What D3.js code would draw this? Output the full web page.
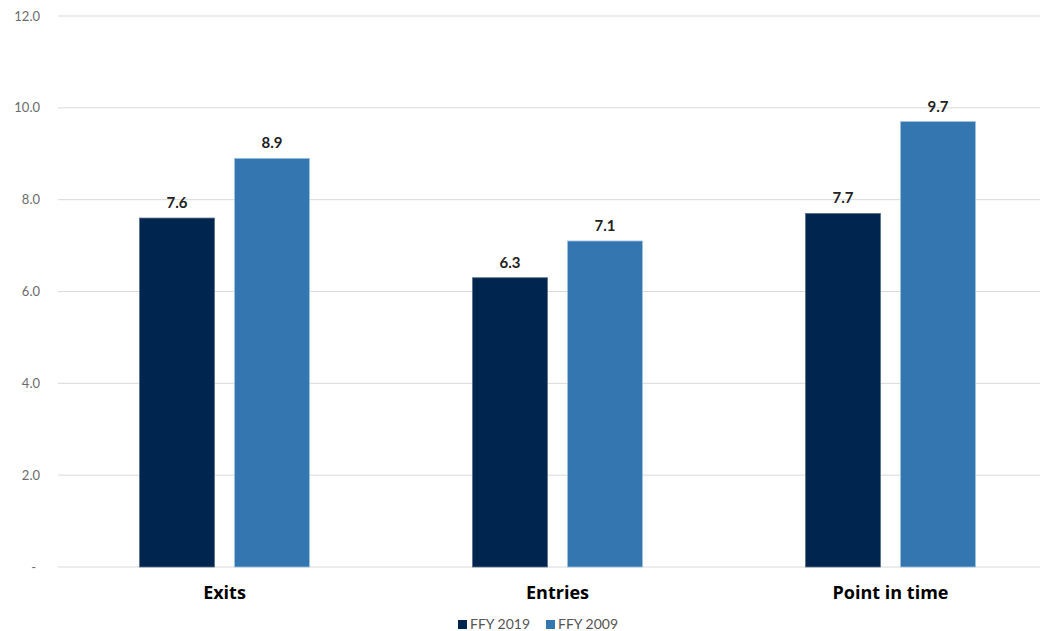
<!DOCTYPE html>
<html><head><meta charset="utf-8">
<script src="https://cdn.jsdelivr.net/npm/d3@7"></script>
<style>body{margin:0;background:#fff;} svg{display:block;font-family:Lato, "Open Sans", sans-serif;}</style>
</head><body>
<svg id="c" width="1044" height="631"></svg>
<script>
const categories = ["Exits", "Entries", "Point in time"];
const series = ["FFY 2019", "FFY 2009"];
const values2019 = [7.6, 6.3, 7.7];
const values2009 = [8.9, 7.1, 9.7];
const yTicks = [0, 2, 4, 6, 8, 10, 12];
const colors = ["#00254f", "#3476b0"];

const svg = d3.select("#c");
const y = d3.scaleLinear().domain([0, 12]).range([567, 16]);
const x0 = d3.scaleBand().domain(categories).range([58, 1057]).padding(0);
const bw = 75, gap = 20, step = bw + gap;
const po = (x0.bandwidth() - (2 * step - gap)) / (2 * step);
const x1 = d3.scaleBand().domain(series).range([0, x0.bandwidth()]).paddingInner(gap / step).paddingOuter(po);

// gridlines
svg.append("g").selectAll("line").data(yTicks).join("line")
  .attr("x1", 58).attr("x2", 1040)
  .attr("y1", d => y(d)).attr("y2", d => y(d))
  .attr("stroke", "#d9d9d9").attr("stroke-width", 1);

// y labels
svg.append("g").selectAll("text").data(yTicks).join("text")
  .attr("x", d => d === 0 ? 36 : 40).attr("y", d => y(d)).attr("dy", "0.35em")
  .attr("text-anchor", "end").attr("fill", "#6b6b6b").attr("font-size", 13)
  .text(d => d === 0 ? "-" : d.toFixed(1));

const data = categories.map((c, i) => ({cat: c, vals: [values2019[i], values2009[i]]}));
const g = svg.append("g").selectAll("g").data(data).join("g")
  .attr("transform", d => `translate(${x0(d.cat)},0)`);
g.selectAll("rect").data(d => d.vals.map((v, j) => ({s: series[j], v, j}))).join("rect")
  .attr("x", d => x1(d.s)).attr("width", x1.bandwidth())
  .attr("y", d => y(d.v)).attr("height", d => y(0) - y(d.v))
  .attr("fill", d => colors[d.j])
  .attr("stroke", d => d.j === 1 ? "#9fc3e3" : "#5a6f8c").attr("stroke-width", 0.8);
g.selectAll("text").data(d => d.vals.map((v, j) => ({s: series[j], v, j}))).join("text")
  .attr("x", d => x1(d.s) + x1.bandwidth() / 2).attr("y", d => y(d.v) - 10)
  .attr("text-anchor", "middle").attr("font-size", 15).attr("font-weight", 700).attr("fill", "#222")
  .text(d => d.v.toFixed(1));

// category labels
svg.append("g").selectAll("text").data(categories).join("text")
  .attr("x", d => x0(d) + x0.bandwidth() / 2).attr("y", 599)
  .attr("text-anchor", "middle").attr("font-size", 18).attr("font-weight", 700).attr("fill", "#000")
  .style("font-family", "'Open Sans', sans-serif")
  .text(d => d);

// legend
const legX = [458, 546];
const lg = svg.append("g").selectAll("g").data(series).join("g")
  .attr("transform", (d, i) => `translate(${legX[i]},624)`);
lg.append("rect").attr("x", 0).attr("y", -4).attr("width", 9).attr("height", 9).attr("fill", (d, i) => colors[i]);
lg.append("text").attr("x", 12).attr("y", 5).attr("font-size", 14).attr("fill", "#555")
  .text(d => d);
</script>
</body></html>
